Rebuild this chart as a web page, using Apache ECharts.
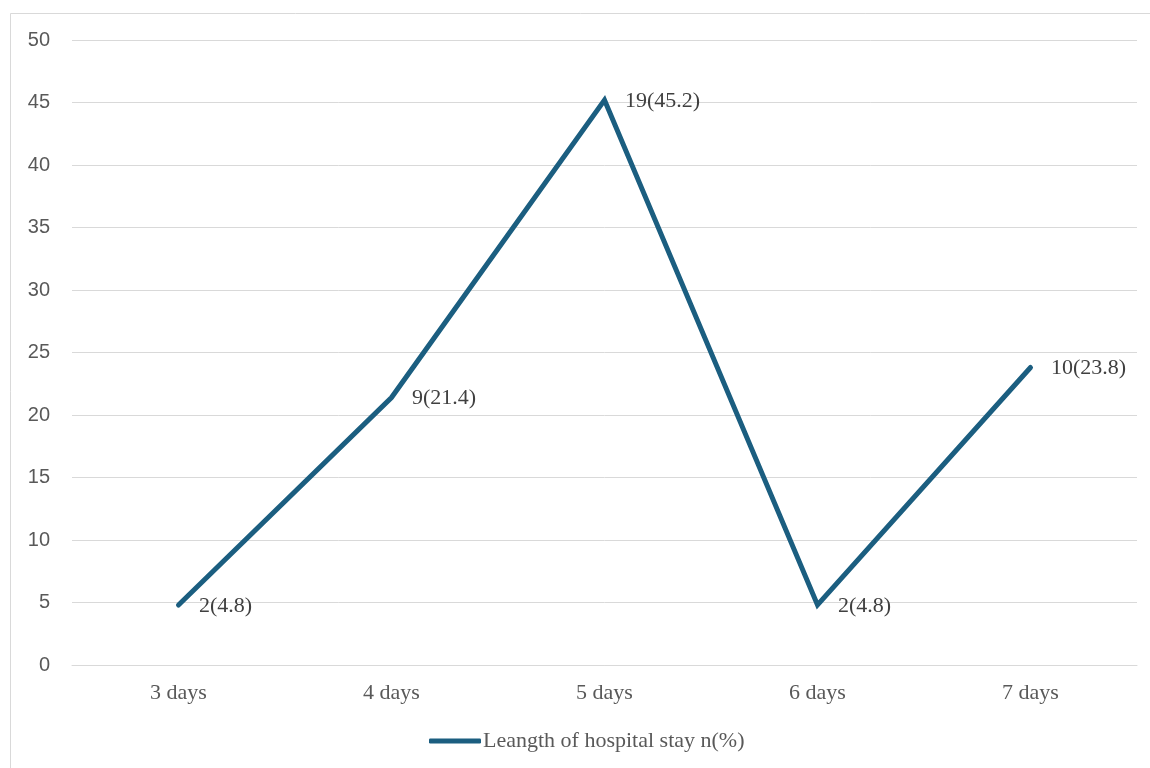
<!DOCTYPE html>
<html>
<head>
<meta charset="utf-8">
<script src="https://cdn.jsdelivr.net/npm/echarts@6/dist/echarts.min.js"></script>
<style>
  html, body { margin: 0; padding: 0; background: #fff; }
  #chart { width: 1150px; height: 768px; }
</style>
</head>
<body>
<div id="chart"></div>
<script>
// Length of hospital stay: number of patients and percentage per stay length
const categories = ['3 days', '4 days', '5 days', '6 days', '7 days'];
const counts = [2, 9, 19, 2, 10];
const percents = [4.8, 21.4, 45.2, 4.8, 23.8];
const yTicks = { min: 0, max: 50, interval: 5 };
const seriesName = 'Leangth of hospital stay n(%)';

const chart = echarts.init(document.getElementById('chart'), null, { renderer: 'canvas' });

const lineColor = '#1b5e80';
const gridGray = '#d9d9d9';
const serif = '"Liberation Serif", "Times New Roman", serif';
const sans = '"Liberation Sans", Arial, sans-serif';

chart.setOption({
  backgroundColor: '#ffffff',
  animation: false,
  graphic: [{
    type: 'rect',
    shape: { x: 10.5, y: 13.5, width: 1200, height: 800 },
    style: { fill: 'none', stroke: gridGray, lineWidth: 1 },
    silent: true,
    z: -1
  }],
  grid: { left: 72, right: 13, top: 40, bottom: 103, containLabel: false },
  legend: {
    show: true,
    orient: 'horizontal',
    left: 424,
    bottom: 11,
    itemWidth: 52,
    itemHeight: 5,
    icon: 'roundRect',
    data: [seriesName],
    itemStyle: { color: lineColor, opacity: 1 },
    lineStyle: { opacity: 0 },
    textStyle: { fontFamily: serif, fontSize: 22, color: '#595959', padding: [0, 0, 0, -3] }
  },
  xAxis: {
    type: 'category',
    data: categories,
    boundaryGap: true,
    axisLine: { show: true, lineStyle: { color: gridGray, width: 1 } },
    axisTick: { show: false },
    axisLabel: { fontFamily: serif, fontSize: 22, color: '#595959', margin: 17 }
  },
  yAxis: {
    type: 'value',
    min: yTicks.min,
    max: yTicks.max,
    interval: yTicks.interval,
    axisLine: { show: false },
    axisTick: { show: false },
    splitLine: { lineStyle: { color: gridGray, width: 1 } },
    axisLabel: { fontFamily: sans, fontSize: 20, color: '#595959', margin: 22 }
  },
  series: [{
    name: seriesName,
    type: 'line',
    data: percents,
    symbol: 'circle',
    symbolSize: 1,
    showSymbol: true,
    lineStyle: { color: lineColor, width: 5, cap: 'round', join: 'miter' },
    itemStyle: { color: lineColor, opacity: 0 },
    label: {
      show: true,
      position: 'right',
      distance: 20,
      offset: [0, 1],
      fontFamily: serif,
      fontSize: 22,
      color: '#404040',
      opacity: 1,
      formatter: p => counts[p.dataIndex] + '(' + percents[p.dataIndex] + ')'
    }
  }]
});
</script>
</body>
</html>
